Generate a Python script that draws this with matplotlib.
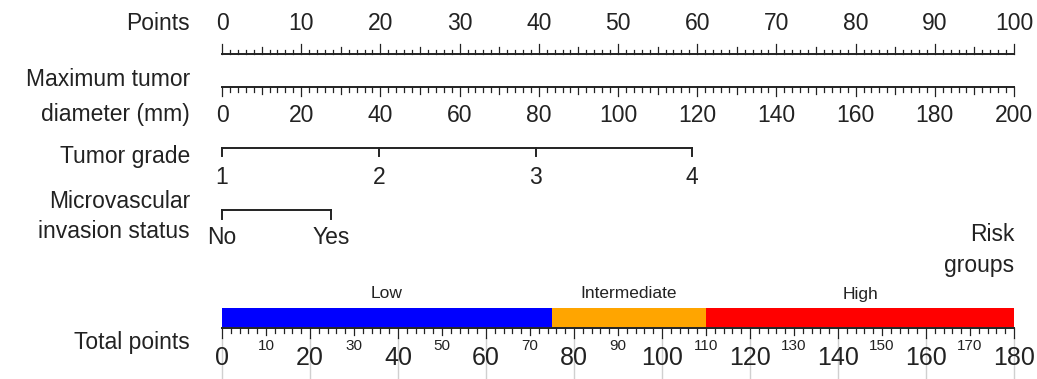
import numpy as np
import matplotlib.pyplot as plt

plt.rcParams['font.family'] = ['Liberation Sans', 'DejaVu Sans']

# ---- data -------------------------------------------------------------
points_major = np.arange(0, 101, 10)
diameter_major = np.arange(0, 201, 20)          # mm, 0-200 -> 0-100 points
grade_labels = ['1', '2', '3', '4']
grade_points = [0, 19.8, 39.6, 59.3]
mvi_labels = ['No', 'Yes']
mvi_points = [0, 13.8]
total_major = np.arange(0, 181, 20)
total_minor_lab = np.arange(10, 180, 20)
risk_groups = ['Low', 'Intermediate', 'High']
risk_bounds = [0, 75, 110, 180]                  # in total points
risk_colors = ['#0000ff', '#ffa500', '#ff0000']

# ---- layout (pixel-like units) ----------------------------------------
W, H = 1037, 379
x0, x1 = 222, 1014
ppp = (x1 - x0) / 100.0          # pixels per point
tot = 100.0 / 180.0              # total points -> points

fig = plt.figure(figsize=(W / 100, H / 100), dpi=100)
ax = fig.add_axes([0, 0, 1, 1])
ax.set_xlim(-x0 / ppp, (W - x0) / ppp)
ax.set_ylim(H, 0)
ax.axis('off')

ink = '#222222'
lw = 1.4
fs = 16.5
lab_x = (190 - x0) / ppp

def left_label(y, s):
    ax.text(lab_x, y, s, ha='right', va='center', fontsize=fs, color=ink)

# Points
left_label(23, 'Points')
ax.plot([0, 100], [54, 54], color=ink, lw=lw)
for v in np.arange(0, 101, 1):
    L = 10 if v % 10 == 0 else (7 if v % 5 == 0 else 4)
    ax.plot([v, v], [54, 54 - L], color=ink, lw=0.9)
for v in points_major:
    ax.text(v, 23, str(v), ha='center', va='center', fontsize=fs, color=ink)

# Maximum tumor diameter
left_label(80, 'Maximum tumor')
left_label(115, 'diameter (mm)')
ax.plot([0, 100], [87, 87], color=ink, lw=lw)
for d in np.arange(0, 201, 2):
    L = 9 if d % 20 == 0 else (7 if d % 10 == 0 else 5)
    ax.plot([d / 2, d / 2], [87, 87 + L], color=ink, lw=0.9)
for d in diameter_major:
    ax.text(d / 2, 116, str(d), ha='center', va='center', fontsize=fs, color=ink)

# Tumor grade
left_label(156, 'Tumor grade')
ax.plot([grade_points[0], grade_points[-1]], [148, 148], color=ink, lw=lw)
for p, s in zip(grade_points, grade_labels):
    ax.plot([p, p], [148, 156], color=ink, lw=lw)
    ax.text(p, 178, s, ha='center', va='center', fontsize=fs, color=ink)

# Microvascular invasion
left_label(201, 'Microvascular')
left_label(232, 'invasion status')
ax.plot([mvi_points[0], mvi_points[-1]], [210, 210], color=ink, lw=lw)
for p, s in zip(mvi_points, mvi_labels):
    ax.plot([p, p], [210, 219], color=ink, lw=lw)
    ax.text(p, 237, s, ha='center', va='center', fontsize=fs, color=ink)

# Risk groups
ax.text(100, 250, 'Risk\ngroups', ha='right', va='center', fontsize=fs,
        color=ink, linespacing=1.45)
for i, name in enumerate(risk_groups):
    a, b = risk_bounds[i] * tot, risk_bounds[i + 1] * tot
    ax.fill_between([a, b], 308, 327, color=risk_colors[i], lw=0)
    ax.text((a + b) / 2, 294, name, ha='center', va='center', fontsize=12.5,
            color=ink)

# Total points
left_label(342, 'Total points')
ax.plot([0, 100], [328, 328], color=ink, lw=lw)
for t in total_major:
    ax.plot([t * tot, t * tot], [338, H], color='#d0d0d0', lw=1.0)
for t in np.arange(0, 181, 2):
    L = 10 if t % 20 == 0 else (7 if t % 10 == 0 else 5)
    ax.plot([t * tot, t * tot], [328, 328 + L], color=ink, lw=0.9)
for t in total_major:
    ax.text(t * tot, 358, str(t), ha='center', va='center', fontsize=18,
            color=ink)
for t in total_minor_lab:
    ax.text(t * tot, 346, str(t), ha='center', va='center', fontsize=11,
            color=ink)

fig.savefig('out.png', dpi=100)
